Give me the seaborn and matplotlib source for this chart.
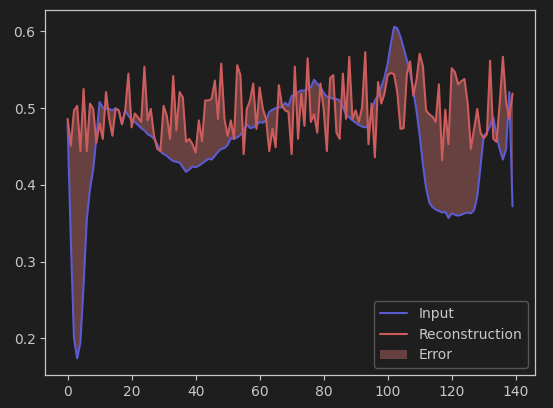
import matplotlib
matplotlib.use("Agg")
import matplotlib.pyplot as plt
import seaborn as sns
import numpy as np

# values (one heartbeat, 140 samples)
input_signal = [
    0.480, 0.330, 0.200, 0.174, 0.195, 0.270, 0.355, 0.395, 0.420, 0.462,
    0.508, 0.501, 0.499, 0.499, 0.497, 0.500, 0.497, 0.479, 0.497, 0.490,
    0.484, 0.482, 0.478, 0.474, 0.471, 0.466, 0.464, 0.460, 0.453, 0.444,
    0.440, 0.438, 0.434, 0.431, 0.430, 0.429, 0.423, 0.417, 0.420, 0.424,
    0.423, 0.425, 0.428, 0.431, 0.434, 0.433, 0.438, 0.443, 0.447, 0.448,
    0.452, 0.461, 0.460, 0.462, 0.465, 0.471, 0.479, 0.474, 0.475, 0.478,
    0.482, 0.481, 0.484, 0.495, 0.498, 0.500, 0.501, 0.501, 0.507, 0.503,
    0.516, 0.517, 0.521, 0.523, 0.523, 0.525, 0.527, 0.537, 0.532, 0.527,
    0.520, 0.515, 0.514, 0.512, 0.512, 0.510, 0.502, 0.491, 0.488, 0.484,
    0.481, 0.478, 0.476, 0.475, 0.476, 0.495, 0.510, 0.516, 0.528, 0.540,
    0.558, 0.584, 0.606, 0.604, 0.593, 0.578, 0.563, 0.546, 0.523, 0.497,
    0.465, 0.427, 0.396, 0.377, 0.371, 0.368, 0.366, 0.364, 0.365, 0.357,
    0.363, 0.361, 0.360, 0.361, 0.363, 0.364, 0.363, 0.367, 0.385, 0.425,
    0.464, 0.468, 0.477, 0.488, 0.464, 0.447, 0.433, 0.447, 0.521, 0.372,
]

reconstruction = [
    0.486, 0.451, 0.497, 0.503, 0.444, 0.525, 0.444, 0.506, 0.499, 0.455,
    0.480, 0.460, 0.521, 0.486, 0.464, 0.499, 0.497, 0.479, 0.497, 0.545,
    0.475, 0.493, 0.488, 0.482, 0.554, 0.484, 0.499, 0.464, 0.447, 0.444,
    0.503, 0.490, 0.460, 0.542, 0.471, 0.521, 0.514, 0.456, 0.460, 0.453,
    0.442, 0.484, 0.457, 0.510, 0.510, 0.512, 0.536, 0.486, 0.558, 0.486,
    0.464, 0.484, 0.460, 0.556, 0.543, 0.440, 0.499, 0.510, 0.532, 0.473,
    0.527, 0.499, 0.486, 0.444, 0.473, 0.449, 0.530, 0.503, 0.497, 0.495,
    0.440, 0.554, 0.460, 0.519, 0.477, 0.565, 0.482, 0.492, 0.468, 0.532,
    0.499, 0.444, 0.539, 0.543, 0.468, 0.460, 0.545, 0.486, 0.567, 0.486,
    0.497, 0.482, 0.501, 0.573, 0.453, 0.506, 0.436, 0.534, 0.506, 0.519,
    0.543, 0.546, 0.544, 0.521, 0.473, 0.474, 0.545, 0.561, 0.516, 0.537,
    0.571, 0.555, 0.497, 0.492, 0.489, 0.482, 0.531, 0.432, 0.498, 0.453,
    0.552, 0.547, 0.531, 0.535, 0.538, 0.506, 0.447, 0.473, 0.499, 0.468,
    0.461, 0.466, 0.562, 0.460, 0.456, 0.506, 0.567, 0.508, 0.486, 0.519,
]

steps = np.arange(len(input_signal))

bg = "#1e1e1e"
fg = "#c8c8c8"

sns.set_style("dark", rc={
    "figure.facecolor": bg,
    "axes.facecolor": bg,
    "axes.edgecolor": fg,
    "axes.labelcolor": fg,
    "text.color": fg,
    "xtick.color": fg,
    "ytick.color": fg,
    "xtick.bottom": True,
    "ytick.left": True,
    "axes.grid": False,
})

fig = plt.figure(figsize=(5.53, 4.08), dpi=100)
ax = fig.add_axes([0.082, 0.081, 0.885, 0.894])

sns.lineplot(x=steps, y=input_signal, ax=ax, color="#5b5bd2", linewidth=1.5, label="Input")
sns.lineplot(x=steps, y=reconstruction, ax=ax, color="#cd5c5c", linewidth=1.5, label="Reconstruction")
ax.fill_between(steps, reconstruction, input_signal, color="lightcoral", alpha=0.35, linewidth=0, label="Error")

for side in ax.spines.values():
    side.set_color(fg)
    side.set_linewidth(0.9)
ax.tick_params(colors=fg, labelsize=10, length=3.5, width=0.8)

leg = ax.legend(loc="lower right", facecolor=bg, edgecolor="#555555", framealpha=1.0, fontsize=10)
for t in leg.get_texts():
    t.set_color(fg)

fig.savefig("out.png", dpi=100, facecolor=bg)
